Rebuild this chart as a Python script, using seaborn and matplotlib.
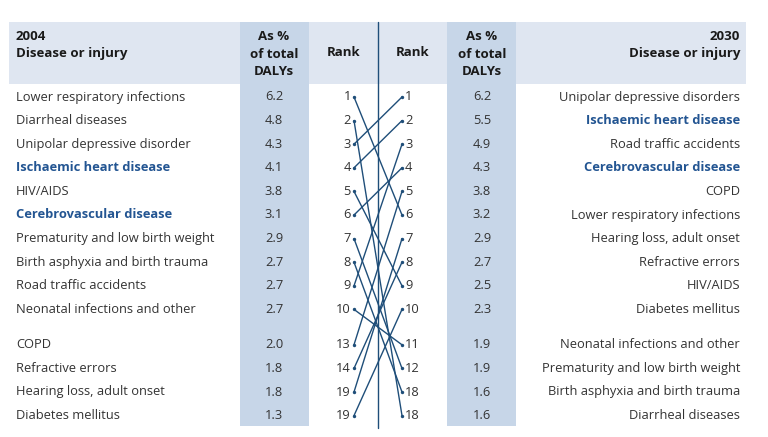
import matplotlib
matplotlib.use("Agg")
import matplotlib.pyplot as plt
import numpy as np
import pandas as pd
import seaborn as sns
from matplotlib.patches import Rectangle

sns.set_style("white")
plt.rcParams['font.family'] = ['Open Sans', 'DejaVu Sans']

# data
diseases_2004 = ["Lower respiratory infections", "Diarrheal diseases", "Unipolar depressive disorder",
                 "Ischaemic heart disease", "HIV/AIDS", "Cerebrovascular disease",
                 "Prematurity and low birth weight", "Birth asphyxia and birth trauma",
                 "Road traffic accidents", "Neonatal infections and other", "COPD",
                 "Refractive errors", "Hearing loss, adult onset", "Diabetes mellitus"]
pct_2004 = [6.2, 4.8, 4.3, 4.1, 3.8, 3.1, 2.9, 2.7, 2.7, 2.7, 2.0, 1.8, 1.8, 1.3]
rank_2004 = [1, 2, 3, 4, 5, 6, 7, 8, 9, 10, 13, 14, 19, 19]

diseases_2030 = ["Unipolar depressive disorders", "Ischaemic heart disease", "Road traffic accidents",
                 "Cerebrovascular disease", "COPD", "Lower respiratory infections",
                 "Hearing loss, adult onset", "Refractive errors", "HIV/AIDS", "Diabetes mellitus",
                 "Neonatal infections and other", "Prematurity and low birth weight",
                 "Birth asphyxia and birth trauma", "Diarrheal diseases"]
pct_2030 = [6.2, 5.5, 4.9, 4.3, 3.8, 3.2, 2.9, 2.7, 2.5, 2.3, 1.9, 1.9, 1.6, 1.6]
rank_2030 = [1, 2, 3, 4, 5, 6, 7, 8, 9, 10, 11, 12, 18, 18]

# row of each 2004 disease in the 2030 list
link_2030_row = [5, 13, 0, 1, 8, 3, 11, 12, 2, 10, 4, 7, 6, 9]
highlight = ["Ischaemic heart disease", "Cerebrovascular disease"]

DARK = "#1f4e79"
BOLD_BLUE = "#235592"
TXT = "#333333"
HEAD_BG = "#dfe6f1"
COL_BG = "#c7d6e8"

slots = [0, 1, 2, 3, 4, 5, 6, 7, 8, 9, 10.5, 11.5, 12.5, 13.5]
row_y = [97 + 23.6 * s for s in slots]

fig = plt.figure(figsize=(7.68, 4.37), dpi=100)
ax = fig.add_axes([0, 0, 1, 1])

ax.add_patch(Rectangle((9, 22), 737, 62, color=HEAD_BG, lw=0, zorder=0))
ax.add_patch(Rectangle((240, 22), 69, 404, color=COL_BG, lw=0, zorder=0.5))
ax.add_patch(Rectangle((447, 22), 69, 404, color=COL_BG, lw=0, zorder=0.5))
ax.plot([378, 378], [22, 428], color=DARK, lw=1.0, zorder=2)

fs = 9.3
hfs = 9.5
# headers
ax.text(16, 30, "2004\nDisease or injury", ha="left", va="top", fontsize=hfs,
        fontweight="bold", color="#1a1a1a", linespacing=1.45)
ax.text(740, 30, "2030\nDisease or injury", ha="right", va="top", fontsize=hfs,
        fontweight="bold", color="#1a1a1a", linespacing=1.45, multialignment="right")
for cx in (274, 482):
    ax.text(cx, 30, "As %\nof total\nDALYs", ha="center", va="top", fontsize=hfs,
            fontweight="bold", color="#1a1a1a", linespacing=1.45)
ax.text(344, 52, "Rank", ha="center", va="center", fontsize=hfs, fontweight="bold", color="#1a1a1a")
ax.text(413, 52, "Rank", ha="center", va="center", fontsize=hfs, fontweight="bold", color="#1a1a1a")

lx, rx = 354, 402
for i in range(14):
    y = row_y[i]
    d = diseases_2004[i]
    hl = d in highlight
    ax.text(16, y, d, ha="left", va="center", fontsize=fs,
            color=BOLD_BLUE if hl else TXT, fontweight="bold" if hl else "normal")
    ax.text(274, y, f"{pct_2004[i]:.1f}", ha="center", va="center", fontsize=fs, color=TXT)
    ax.text(lx - 3, y, str(rank_2004[i]), ha="right", va="center", fontsize=fs, color=TXT)

    d2 = diseases_2030[i]
    hl2 = d2 in highlight
    ax.text(740, y, d2, ha="right", va="center", fontsize=fs,
            color=BOLD_BLUE if hl2 else TXT, fontweight="bold" if hl2 else "normal")
    ax.text(482, y, f"{pct_2030[i]:.1f}", ha="center", va="center", fontsize=fs, color=TXT)
    ax.text(rx + 3, y, str(rank_2030[i]), ha="left", va="center", fontsize=fs, color=TXT)

# connectors
rows = []
for i, j in enumerate(link_2030_row):
    rows.append({"d": diseases_2004[i], "x": lx, "y": row_y[i]})
    rows.append({"d": diseases_2004[i], "x": rx, "y": row_y[j]})
links = pd.DataFrame(rows)
sns.lineplot(data=links, x="x", y="y", units="d", estimator=None, sort=False,
             color=DARK, lw=1.0, ax=ax, zorder=3)
sns.scatterplot(data=links, x="x", y="y", color=DARK, s=6, linewidth=0, ax=ax, zorder=4)
ax.set_xlim(0, 768)
ax.set_ylim(437, 0)
ax.axis("off")

fig.savefig("out.png", dpi=100)
